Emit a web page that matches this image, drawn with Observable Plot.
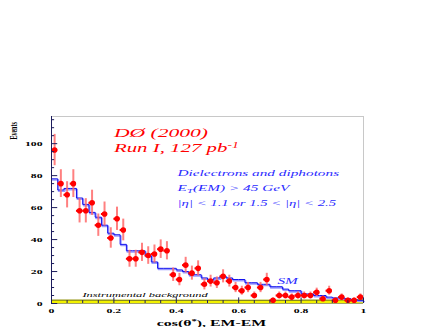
<!DOCTYPE html>
<html><head><meta charset="utf-8">
<script src="https://cdn.jsdelivr.net/npm/d3@7"></script>
<script src="https://cdn.jsdelivr.net/npm/@observablehq/plot@0.6"></script>
<style>html,body{margin:0;padding:0;background:#fff} svg{display:block}</style>
</head><body><div id="chart"></div>
<script>
// ---- data ----
const binCenters = [0.01,0.03,0.05,0.07,0.09,0.11,0.13,0.15,0.17,0.19,
  0.21,0.23,0.25,0.27,0.29,0.31,0.33,0.35,0.37,0.39,
  0.41,0.43,0.45,0.47,0.49,0.51,0.53,0.55,0.57,0.59,
  0.61,0.63,0.65,0.67,0.69,0.71,0.73,0.75,0.77,0.79,
  0.81,0.83,0.85,0.87,0.89,0.91,0.93,0.95,0.97,0.99];
const counts = [96,75,68,75,58,58,63,49,56,41,
  53,46,28,28,32,30,31,34,33,18,
  15,24,19,22,12,14,13,17,14,10,
  8,10,5,10,15,2,5,5,4,5,
  5,5,7,3,8,2,4,2,2,4];
const errors = [9.8,8.7,8.2,8.7,7.6,7.6,7.9,7.0,7.5,6.4,
  7.3,6.8,5.3,5.3,5.7,5.5,5.6,5.8,5.7,4.2,
  3.9,4.9,4.4,4.7,3.5,3.7,3.6,4.1,3.7,3.2,
  2.8,3.2,2.2,3.2,3.9,1.4,2.2,2.2,2.0,2.2,
  2.2,2.2,2.6,1.7,2.8,1.4,2.0,1.4,1.4,2.0];
const smEdges = [0,0.02,0.04,0.06,0.08,0.10,0.12,0.14,0.16,0.18,
  0.20,0.22,0.24,0.26,0.28,0.30,0.32,0.34,0.36,0.38,
  0.40,0.42,0.44,0.46,0.48,0.50,0.52,0.54,0.56,0.58,
  0.60,0.62,0.64,0.66,0.68,0.70,0.72,0.74,0.76,0.78,
  0.80,0.82,0.84,0.86,0.88,0.90,0.92,0.94,0.96,0.98,1.0];
const smValues = [78,71,72,72,66,62,57,54,49,44,
  43,37,33,33,33,30,26,22,22,22,
  21,20,18,18,16,15,16,17,16,15,
  15,13,13,12,12,10.5,10.5,9,8,8,
  6,6,5,5,4,3.5,3.5,3,2.5,2,2];
const bgEdges = [0,0.1,0.2,0.3,0.4,0.5,0.6,0.7,0.8,0.9,1.0];
const bgValues = [2.1,2.1,2.0,2.0,2.0,2.0,2.0,2.0,2.1,2.2,2.2];
const yTicks = [0,20,40,60,80,100];
const yMinorTicks = [5,10,15,25,30,35,45,50,55,65,70,75,85,90,95,105,110,115];
const xTicks = [0,0.2,0.4,0.6,0.8,1];
const xTickLabels = ["0","0.2","0.4","0.6","0.8","1"];
const xMinorTicks = [0.05,0.1,0.15,0.25,0.3,0.35,0.45,0.5,0.55,0.65,0.7,0.75,0.85,0.9,0.95];

const points = binCenters.map((x,i)=>({x, n: counts[i], e: errors[i]}));
const sm = smEdges.map((x,i)=>({x, y: smValues[i]}));
const bg = bgEdges.map((x,i)=>({x, y: bgValues[i]}));

const serif = "'Liberation Serif', 'DejaVu Serif', serif";
const navy = "#1c1c5c";
const blueText = "#2a2aff";

const plot = Plot.plot({
  width: 436, height: 327,
  marginLeft: 51, marginRight: 73, marginTop: 116, marginBottom: 24,
  x: {domain: [0,1], axis: null},
  y: {domain: [0,117], axis: null},
  style: {background: "#fff", fontFamily: serif, overflow: "visible"},
  marks: [
    Plot.ruleY([117], {stroke: "#c8c8c8"}),
    Plot.ruleX([1], {stroke: "#c8c8c8"}),
    Plot.areaY(bg, {x: "x", y: "y", curve: "step-after", fill: "#f2f200"}),
    Plot.lineY(bg, {x: "x", y: "y", curve: "step-after", stroke: "#6e6e22", strokeWidth: 1}),
    Plot.ruleY([0], {stroke: "#8a8a40", strokeWidth: 0.8}),
    Plot.lineY(sm, {x: "x", y: "y", curve: "step-after", stroke: "#9a9aff", strokeWidth: 1.6, dy: 1.2, dx: 0.8}),
    Plot.lineY(sm, {x: "x", y: "y", curve: "step-after", stroke: "#1010ee", strokeWidth: 1}),
    Plot.ruleX(points, {x: "x", y1: d => d.n - d.e, y2: d => d.n + d.e, stroke: "#ff6a6a", strokeOpacity: 0.85, strokeWidth: 2}),
    Plot.ruleY(points, {y: "n", x1: d => d.x - 0.01, x2: d => d.x + 0.01, stroke: "#ff0000", strokeWidth: 2}),
    Plot.dot(points, {x: "x", y: "n", r: 2.8, fill: "#ff0000"}),
    Plot.ruleX([0], {stroke: navy, strokeWidth: 1}),
    Plot.ruleY(yTicks, {y: d => d, x1: 0, x2: 0.02, stroke: navy}),
    Plot.ruleY(yMinorTicks, {y: d => d, x1: 0, x2: 0.01, stroke: navy}),
    Plot.ruleX(xTicks, {x: d => d, y1: 0, y2: 3.5, stroke: navy}),
    Plot.ruleX(xMinorTicks, {x: d => d, y1: 0, y2: 1.8, stroke: navy}),
    Plot.text(yTicks, {x: 0, y: d => d, text: d => String(d), textAnchor: "end", dx: -9, fontWeight: "bold", fontSize: 6.5, fill: "#000"}),
    Plot.text(xTicks, {x: d => d, y: 0, text: (d,i) => xTickLabels[i], dy: 7.5, fontWeight: "bold", fontSize: 6.5, fill: "#000"}),
    Plot.text(["cos(θ*), EM-EM"], {x: 0.513, y: 0, dy: 19.5, fontWeight: "bold", fontSize: 8.8, fill: "#000"}),
    Plot.text(["Events"], {x: 0, y: 108, dx: -38, rotate: -90, fontSize: 6, fontWeight: "bold", fill: "#000"}),
    Plot.text(["DØ (2000)"], {x: 0.2, y: 106.4, textAnchor: "start", fontStyle: "italic", fontSize: 12, fill: "#ff0000"}),
    Plot.text(["Run I, 127 pb-1"], {x: 0.2, y: 96.9, textAnchor: "start", fontStyle: "italic", fontSize: 11.6, fill: "#ff0000"}),
    Plot.text(["Dielectrons and diphotons"], {x: 0.404, y: 81.4, textAnchor: "start", fontStyle: "italic", fontSize: 8.5, fill: blueText}),
    Plot.text(["ET(EM) > 45 GeV"], {x: 0.404, y: 72.1, textAnchor: "start", fontStyle: "italic", fontSize: 8.5, fill: blueText}),
    Plot.text(["|η| < 1.1 or 1.5 < |η| < 2.5"], {x: 0.404, y: 62.7, textAnchor: "start", fontStyle: "italic", fontSize: 8.2, fill: blueText}),
    Plot.text(["SM"], {x: 0.724, y: 14, textAnchor: "start", fontStyle: "italic", fontSize: 8.5, fill: blueText}),
    Plot.text(["Instrumental background"], {x: 0.099, y: 5.2, textAnchor: "start", fontStyle: "italic", fontSize: 6.9, fill: "#000"})
  ]
});

document.getElementById("chart").appendChild(plot);

const svg = d3.select(plot);
svg.selectAll("text").each(function() {
  const t = this.textContent;
  const sel = d3.select(this);
  if (t === "Run I, 127 pb-1") {
    sel.text("Run I, 127 pb");
    sel.append("tspan").attr("dy", "-4.5").attr("font-size", "7.5").text("-1");
  } else if (t === "ET(EM) > 45 GeV") {
    sel.text("E");
    sel.append("tspan").attr("dy", "2").attr("font-size", "6").text("T");
    sel.append("tspan").attr("dy", "-2").text("(EM) > 45 GeV");
  } else if (t === "cos(θ*), EM-EM") {
    sel.text("cos(θ");
    sel.append("tspan").attr("dy", "-3").attr("font-size", "6").text("*");
    sel.append("tspan").attr("dy", "3").text("), EM-EM");
  }
});

// the reference figure is stretched horizontally: stretch every text the same way,
// about its own anchor point, in its parent's (screen-aligned) frame
svg.selectAll("text").each(function() {
  const el = this;
  const ax = parseFloat(el.getAttribute("x")) || 0, ay = parseFloat(el.getAttribute("y")) || 0;
  const c = el.transform.baseVal.consolidate();
  const m = c ? DOMMatrix.fromMatrix(c.matrix) : new DOMMatrix();
  const p = new DOMPoint(ax, ay).matrixTransform(m);
  const nm = new DOMMatrix().translate(p.x, p.y).scale(1.8, 1).translate(-p.x, -p.y).multiply(m);
  el.setAttribute("transform", `matrix(${nm.a},${nm.b},${nm.c},${nm.d},${nm.e},${nm.f})`);
});
</script>
</body></html>
